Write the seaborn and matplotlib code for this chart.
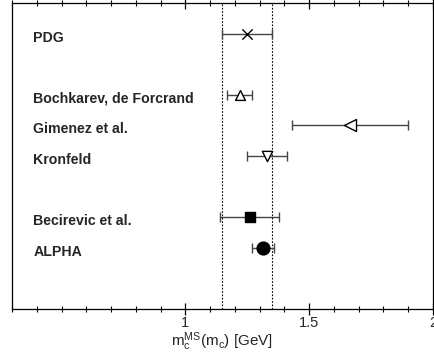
import matplotlib
matplotlib.use("Agg")
import matplotlib.pyplot as plt
import seaborn as sns
import pandas as pd
from matplotlib.ticker import MultipleLocator, FixedLocator, FuncFormatter

labels = ["PDG", "Bochkarev, de Forcrand", "Gimenez et al.", "Kronfeld",
          "Becirevic et al.", "ALPHA"]
ypos = [7, 5, 4, 3, 1, 0]
values = [1.25, 1.22, 1.665, 1.33, 1.26, 1.314]
errors = [0.10, 0.05, 0.233, 0.08, 0.12, 0.045]
markers = ["x", "^", "<", "v", "s", "o"]
filled = [True, False, False, False, True, True]
msizes = [55, 50, 75, 55, 45, 85]
band = [1.15, 1.35]

sns.set_theme(style="ticks")
plt.rcParams['font.family'] = ['Liberation Sans', 'DejaVu Sans']
plt.rcParams['mathtext.fontset'] = 'custom'
plt.rcParams['mathtext.rm'] = 'Liberation Sans'
plt.rcParams['mathtext.it'] = 'Liberation Sans'

df = pd.DataFrame({"label": labels, "y": ypos, "m": values, "err": errors})

fig = plt.figure(figsize=(4.35, 3.52), dpi=100)
ax = fig.add_axes([12/435, 43/352, 421/435, 306/352])
ax.set_xlim(0.3, 2.0)
ax.set_ylim(-2, 8)
ax.xaxis.set_major_locator(FixedLocator([1, 1.5, 2]))
ax.xaxis.set_major_formatter(FuncFormatter(lambda v, p: f"{v:g}"))
ax.xaxis.set_minor_locator(MultipleLocator(0.1))
ax.tick_params(axis="y", which="both", left=False, right=False,
               labelleft=False)
ax.tick_params(axis="x", which="major", direction="inout", length=8, width=0.9,
               top=True, bottom=True, color="black", labelsize=10.5, pad=1)
ax.tick_params(axis="x", which="minor", direction="inout", length=4.5, width=0.8,
               top=True, bottom=True, color="black")

for x in band:
    ax.axvline(x, color="black", ls=(0, (1.5, 1.5)), lw=0.8, zorder=1)

ax.errorbar(df["m"], df["y"], xerr=df["err"], fmt="none", ecolor="#444444",
            elinewidth=1.0, capsize=3.5, capthick=1.0, zorder=2)

for i, row in df.iterrows():
    sub = df.iloc[[i]]
    fc = "black" if filled[i] else "white"
    sns.scatterplot(data=sub, x="m", y="y", marker=markers[i], s=msizes[i],
                    color=fc, edgecolor="black", linewidth=1.0, ax=ax,
                    zorder=3, legend=False)
    ax.text(0.3 + 0.086, row["y"] - 0.13, row["label"], fontsize=10.2,
            fontweight="bold", ha="left", va="center")

ax.set_xlim(0.3, 2.0)
ax.set_ylim(-2, 8)
for s in ax.spines.values():
    s.set_linewidth(0.9)
    s.set_color("black")
ax.set_xlabel(r"$\mathregular{m_c^{MS}(m_c)}$ [GeV]", fontsize=11, labelpad=0)
ax.set_ylabel("")
fig.savefig("out.png", dpi=100)
